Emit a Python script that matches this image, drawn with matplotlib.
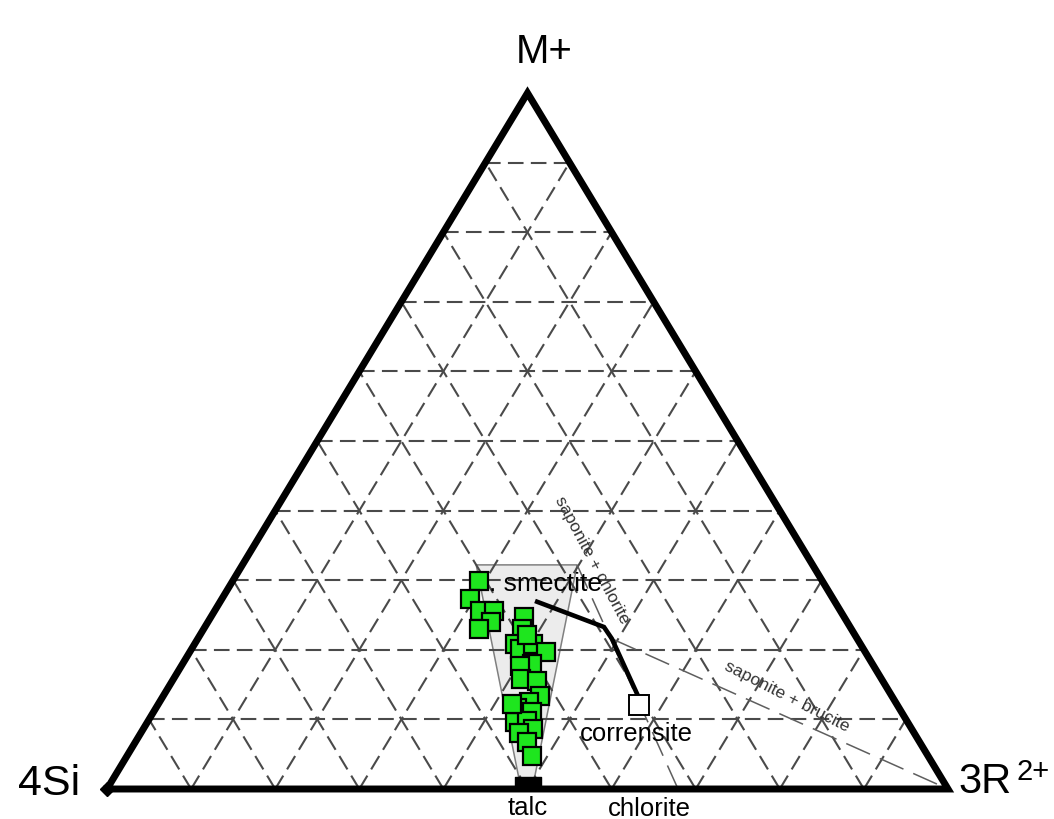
import matplotlib
matplotlib.use("Agg")
import matplotlib.pyplot as plt
from matplotlib.patches import Polygon

plt.rcParams['font.family'] = ['Liberation Sans', 'DejaVu Sans']

# Clay analyses plotted in the 4Si - 3R2+ - M+ system (percent of each pole)
sample_si = [40.8, 43.2, 42.9, 41.2, 42.3, 44.3, 38.1, 39.2, 41.1, 40.8,
             38.9, 37.9, 40.5, 42.1, 42.9, 41.1, 41.8, 43.6, 45.4, 44.0,
             46.7, 45.2, 45.0, 47.0, 46.7, 47.1, 45.7, 39.0]
sample_r = [29.3, 29.5, 31.5, 33.2, 33.7, 32.7, 37.2, 37.8, 38.1, 39.1,
            40.3, 42.4, 41.5, 40.2, 41.3, 43.3, 44.8, 43.9, 42.9, 45.0,
            43.7, 45.0, 46.4, 44.9, 46.6, 48.1, 42.0, 38.9]
sample_m = [29.9, 27.3, 25.6, 25.6, 24.0, 23.0, 24.7, 23.0, 20.8, 20.1,
            20.8, 19.7, 18.0, 17.7, 15.8, 15.5, 13.4, 12.5, 11.7, 11.0,
            9.6, 9.8, 8.6, 8.1, 6.7, 4.8, 12.2, 22.1]

# Smectite field
smectite_si = [40.0, 28.0, 48.5, 50.3]
smectite_r = [27.8, 39.8, 50.1, 48.3]
smectite_m = [32.2, 32.2, 1.4, 1.4]

# Smectite -> corrensite evolution path
trend_si = [35.4, 29.3, 29.2, 30.2]
trend_r = [37.7, 47.5, 49.3, 56.5]
trend_m = [26.9, 23.3, 21.6, 13.4]

# Reference phases (Si, R, M)
corrensite = (30.7, 57.3, 12.1)
talc = (50.0, 50.0, 0.0)
chlorite = (35.5, 64.5, 0.0)

# Two-phase tie lines
sap_chl_si, sap_chl_r, sap_chl_m = [28.0, 32.1], [39.8, 67.9], [32.2, 0.0]
sap_bru_si, sap_bru_r, sap_bru_m = [29.2, 0.0], [49.3, 100.0], [21.6, 0.0]

grid_steps = [10, 20, 30, 40, 50, 60, 70, 80, 90]


def tern(si, r, m):
    """Ternary proportions -> cartesian (4Si left, 3R2+ right, M+ top)."""
    out_x, out_y = [], []
    for a, b, c in zip(si, r, m):
        t = a + b + c
        out_x.append(b / t + 0.5 * c / t)
        out_y.append(c / t)
    return out_x, out_y


fig = plt.figure(figsize=(10.54, 8.2), dpi=100)
ax = fig.add_axes([107 / 1054, 30 / 820, 841 / 1054, 696 / 820])
ax.set_xlim(0, 1)
ax.set_ylim(0, 1)
ax.axis('off')

# dashed grid
grid_kw = dict(color='#4a4a4a', lw=1.5, dashes=(7.5, 3.5), zorder=2, clip_on=False)
for f in grid_steps:
    g = 100 - f
    ax.plot(*tern([g, 0], [0, g], [f, f]), **grid_kw)
    ax.plot(*tern([g, 0], [f, f], [0, g]), **grid_kw)
    ax.plot(*tern([f, f], [g, 0], [0, g]), **grid_kw)

# smectite field
sx, sy = tern(smectite_si, smectite_r, smectite_m)
ax.add_patch(Polygon(list(zip(sx, sy)), closed=True, facecolor='#ececec',
                     edgecolor='#808080', lw=1.1, zorder=1))

# tie lines
tie_kw = dict(color='#5e5e5e', lw=1.1, dashes=(17, 7), zorder=3, clip_on=False)
ax.plot(*tern(sap_chl_si, sap_chl_r, sap_chl_m), **tie_kw)
ax.plot(*tern(sap_bru_si, sap_bru_r, sap_bru_m), **tie_kw)
ax.text(0.5767, 0.3305, 'saponite + chlorite', rotation=-62, fontsize=12.5,
        color='#333333', ha='center', va='center', rotation_mode='anchor', zorder=4)
ax.text(0.8086, 0.1336, 'saponite + brucite', rotation=-27, fontsize=12.5,
        color='#333333', ha='center', va='center', rotation_mode='anchor', zorder=4)

# evolution path
ax.plot(*tern(trend_si, trend_r, trend_m), color='black', lw=3.3,
        solid_joinstyle='miter', zorder=5, clip_on=False)

# triangle frame
vx, vy = tern([100, 0, 0, 100], [0, 100, 0, 0], [0, 0, 100, 0])
ax.plot(vx, vy, color='black', lw=5.0, solid_joinstyle='miter', zorder=6, clip_on=False)
ax.plot([vx[0]], [vy[0]], marker='D', ms=7.5, color='black', zorder=6, clip_on=False)

# samples
px, py = tern(sample_si, sample_r, sample_m)
ax.plot(px, py, ls='none', marker='s', ms=12.3, mfc='#1ee61e', mec='black',
        mew=1.6, zorder=7, clip_on=False)

# corrensite
cx, cy = tern([corrensite[0]], [corrensite[1]], [corrensite[2]])
ax.plot(cx, cy, ls='none', marker='s', ms=14.5, mfc='white', mec='black',
        mew=1.4, zorder=7, clip_on=False)

# talc
tx, ty = tern([talc[0]], [talc[1]], [talc[2]])
bar_marker = [(-1, 0), (1, 0), (1, 0.9), (-1, 0.9), (-1, 0)]
ax.plot(tx, ty, ls='none', marker=bar_marker, ms=18.5, color='black',
        zorder=7, clip_on=False)

chx, chy = tern([chlorite[0]], [chlorite[1]], [chlorite[2]])

# labels
lab = dict(textcoords='offset points', annotation_clip=False, zorder=8)
ax.annotate('M+', (vx[2], vy[2]), xytext=(12, 22.5), ha='center', va='baseline',
            fontsize=29, **lab)
ax.annotate('4Si', (vx[0], vy[0]), xytext=(-19.5, -3.6), ha='right', va='baseline',
            fontsize=31, **lab)
ax.annotate('3R', (vx[1], vy[1]), xytext=(7.2, -2.2), ha='left', va='baseline',
            fontsize=30, **lab)
ax.annotate('2+', (vx[1], vy[1]), xytext=(49.5, 7), ha='left', va='baseline',
            fontsize=21, **lab)
ax.annotate('corrensite', (cx[0], cy[0]), xytext=(-1.8, -25), ha='center',
            va='baseline', fontsize=18.5, **lab)
ax.annotate('talc', (tx[0], ty[0]), xytext=(0, -18), ha='center', va='baseline',
            fontsize=18.5, **lab)
ax.annotate('chlorite', (chx[0], chy[0]), xytext=(0, -18.7), ha='center',
            va='baseline', fontsize=18.5, **lab)
ax.annotate('. smectite', (sx[0], sy[0]), xytext=(9, -18), ha='left',
            va='baseline', fontsize=19, **lab)

fig.savefig('out.png', dpi=100, facecolor='white')
